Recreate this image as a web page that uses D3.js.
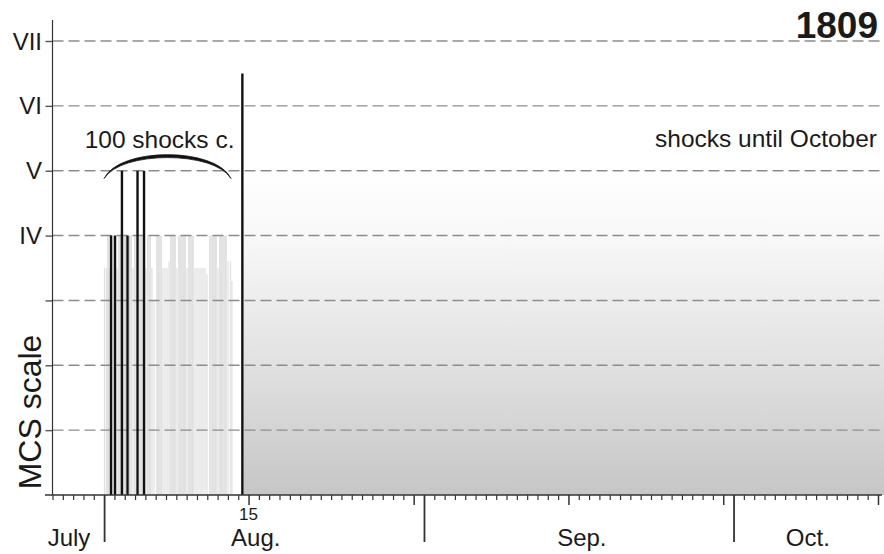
<!DOCTYPE html>
<html><head><meta charset="utf-8">
<script src="https://cdn.jsdelivr.net/npm/d3@7"></script>
<style>body{margin:0;background:#fff}svg{display:block}text{font-family:"Liberation Sans",Arial,sans-serif;fill:#1a1a1a}</style>
</head><body>
<script>
// ---- data (x = days after 1 Aug 1809, y = MCS level) ----
const levels = [1, 2, 3, 4, 5, 6, 7];
const levelLabels = ["", "", "", "IV", "V", "VI", "VII"];
const blackDays = [0.67, 1.06, 1.73, 2.27, 3.24, 3.87];
const blackLevels = [4, 4, 5, 4, 5, 5];
const grayDays = [0.04,0.23,0.38,0.57,0.86,1.25,1.44,1.59,1.93,2.07,2.46,2.61,2.80,2.99,3.48,3.67,4.06,4.25,4.45,4.64,4.84,5.13,5.32,5.52,5.71,5.90,6.10,6.29,6.48,6.68,6.87,7.06,7.26,7.45,7.65,7.84,8.03,8.23,8.42,8.61,8.81,9.00,9.20,9.39,9.58,9.78,9.97,10.26,10.46,10.65,10.84,11.04,11.23,11.42,11.62,11.81,12.01,12.25,12.39];
const grayLevels = [3.5,3.5,4,3.5,4,3.5,4,4,4,4,4,4,3.5,4,4,4,3.5,4,4,3.5,3.0,4,4,4,3.5,3.5,3.5,3.6,4,4,4,3.5,4,4,4,4,3.5,4,4,4,3.5,3.5,3.5,3.5,3.5,3.5,3.4,4,4,4,4,3.5,4,4,4,4,3.6,3.6,3.3];
const mainShockDay = [13.4];
const mainShockLevel = [6.5];
const laterPeriod = [13.5, 75.6];      // shocks until October (day range)
const laterTop = [5];                  // level where shading fades out
const braceRange = [0, 12.3];
const minorTickDays = d3.range(-5, 76);
const midTickDays = [14, 30, 45, 60, 75];
const monthStartDays = [0, 31, 61];
const monthNames = ["July", "Aug.", "Sep.", "Oct."];
const monthLabelDays = [-3.4, 14.7, 46.3, 68.2];
const dayLabels = ["15"];
const dayLabelDays = [14];

const W = 884, H = 554;
const x = d3.scaleLinear().domain([-5, 75]).range([52.5, 878]);
const y = d3.scaleLinear().domain([0, 7]).range([495, 41]);

const svg = d3.select("body").append("svg").attr("width", W).attr("height", H);
const defs = svg.append("defs");
const grad = defs.append("linearGradient").attr("id", "fade").attr("x1", 0).attr("x2", 0).attr("y1", 0).attr("y2", 1);
grad.append("stop").attr("offset", "0%").attr("stop-color", "#ffffff");
grad.append("stop").attr("offset", "20%").attr("stop-color", "#f8f8f8");
grad.append("stop").attr("offset", "55%").attr("stop-color", "#e4e4e4");
grad.append("stop").attr("offset", "100%").attr("stop-color", "#c6c6c6");

// later shocks shading
svg.append("rect")
  .attr("x", x(laterPeriod[0])).attr("width", x(laterPeriod[1]) - x(laterPeriod[0]))
  .attr("y", y(laterTop[0])).attr("height", y(0) - y(laterTop[0]))
  .attr("fill", "url(#fade)");

// gray shocks
svg.append("g").selectAll("line").data(grayDays).join("line")
  .attr("x1", d => x(d)).attr("x2", d => x(d))
  .attr("y1", y(0)).attr("y2", (d, i) => y(grayLevels[i]))
  .attr("stroke", (d, i) => grayLevels[i] >= 4 ? "#d4d4d4" : "#e2e2e2").attr("stroke-width", 1.3);

// gridlines
svg.append("g").selectAll("line").data(levels).join("line")
  .attr("x1", x(-5)).attr("x2", W).attr("y1", d => y(d)).attr("y2", d => y(d))
  .attr("stroke", "#8c8c8c").attr("stroke-width", 1.4).attr("stroke-dasharray", "11,5");

// brace
{
  const x0 = x(braceRange[0]), x1 = x(braceRange[1]), ye = y(4.88);
  const yo = y(5.37), yi = y(5.31);
  const p = `M${x0},${ye} C${x0 + 15},${yo} ${x1 - 15},${yo} ${x1},${ye} C${x1 - 17},${yi} ${x0 + 17},${yi} ${x0},${ye} Z`;
  svg.append("path").attr("d", p).attr("fill", "#111").attr("stroke", "#111").attr("stroke-width", 0.8);
}

// black shocks
svg.append("g").selectAll("line").data(blackDays).join("line")
  .attr("x1", d => x(d)).attr("x2", d => x(d))
  .attr("y1", y(0)).attr("y2", (d, i) => y(blackLevels[i]))
  .attr("stroke", "#111").attr("stroke-width", 2.4);
svg.append("g").selectAll("line").data(mainShockDay).join("line")
  .attr("x1", d => x(d)).attr("x2", d => x(d))
  .attr("y1", y(0)).attr("y2", (d, i) => y(mainShockLevel[i]))
  .attr("stroke", "#111").attr("stroke-width", 2.4);

// y axis
const yAxis = d3.axisLeft(y).tickValues(levels).tickSize(7).tickFormat("");
const gy = svg.append("g").attr("transform", `translate(${x(-5)},0)`).call(yAxis);
gy.select(".domain").remove();
gy.selectAll(".tick line").attr("stroke", "#555").attr("stroke-width", 1.4);
svg.append("line").attr("x1", x(-5)).attr("x2", x(-5)).attr("y1", 20).attr("y2", y(0))
  .attr("stroke", "#333").attr("stroke-width", 1.2);
svg.append("g").selectAll("text").data(levels).join("text")
  .attr("x", 42).attr("y", d => y(d) + 8.5).attr("text-anchor", "end")
  .attr("font-size", 24).text((d, i) => levelLabels[i]);

// x axis
const gx = svg.append("g").attr("transform", `translate(0,${y(0)})`);
gx.call(d3.axisBottom(x).tickValues(minorTickDays).tickSize(5).tickFormat("").tickSizeOuter(0));
gx.select(".domain").attr("d", `M45,0H882`).attr("stroke", "#333").attr("stroke-width", 1.4);
gx.selectAll(".tick line").attr("stroke", "#333").attr("stroke-width", 1.2);
gx.selectAll(".tick").filter(d => midTickDays.includes(d)).select("line").attr("y2", 10).attr("stroke-width", 1.5);
gx.selectAll(".tick").filter(d => monthStartDays.includes(d)).select("line").attr("y2", 47).attr("stroke-width", 1.8);

svg.append("g").selectAll("text").data(monthNames).join("text")
  .attr("x", (d, i) => x(monthLabelDays[i])).attr("y", 546).attr("text-anchor", "middle")
  .attr("font-size", 24).text(d => d);
svg.append("g").selectAll("text").data(dayLabels).join("text")
  .attr("x", (d, i) => x(dayLabelDays[i])).attr("y", 520).attr("text-anchor", "middle")
  .attr("font-size", 17).text(d => d);

// titles & annotations
svg.append("text").attr("x", 878).attr("y", 38).attr("text-anchor", "end")
  .attr("font-size", 37).attr("font-weight", "bold").text("1809");
svg.append("text").attr("x", 877).attr("y", 147).attr("text-anchor", "end")
  .attr("font-size", 24.5).text("shocks until October");
svg.append("text").attr("x", (x(braceRange[0]) + x(braceRange[1])) / 2 - 8).attr("y", 148).attr("text-anchor", "middle")
  .attr("font-size", 24.5).text("100 shocks c.");
svg.append("text").attr("transform", `translate(41,${412}) rotate(-90)`).attr("text-anchor", "middle")
  .attr("font-size", 32).text("MCS scale");
</script>
</body></html>
